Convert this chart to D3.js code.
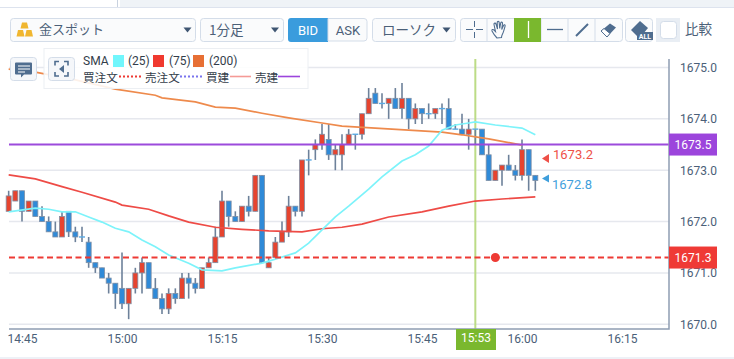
<!DOCTYPE html>
<html>
<head>
<meta charset="utf-8">
<script src="https://cdn.jsdelivr.net/npm/d3@7"></script>
<style>
body { margin: 0; background: #fff; }
text { font-family: Roboto, "Noto Sans CJK JP", sans-serif; }
.jp { font-family: "Noto Sans CJK JP", Roboto, sans-serif; }
</style>
</head>
<body>
<div id="chart"></div>
<script>
var startTime = "14:45";
var firstMinute = -2;

var opens = [1672.2,1672.4,1672.6,1672.2,1672.4,1672.1,1672.0,1671.8,1671.7,1672.2,1671.8,1671.7,1671.6,1671.2,1671.1,1670.9,1670.8,1670.7,1670.4,1670.7,1671.0,1671.2,1670.7,1670.5,1670.3,1670.6,1670.5,1670.9,1670.8,1670.7,1671.1,1671.2,1671.7,1672.4,1672.1,1672.0,1672.3,1672.2,1672.9,1671.1,1671.3,1671.6,1671.8,1672.3,1672.2,1673.2,1673.4,1673.5,1673.6,1673.3,1673.3,1673.5,1673.7,1673.7,1674.1,1674.5,1674.3,1674.3,1674.4,1674.2,1674.4,1674.0,1674.2,1674.1,1674.1,1674.2,1674.2,1673.8,1673.8,1673.7,1673.8,1673.8,1673.3,1672.8,1673.0,1673.1,1673.0,1672.9,1673.4,1672.9];
var highs = [1672.6,1672.6,1672.6,1672.4,1672.4,1672.3,1672.1,1672.0,1672.2,1672.2,1671.9,1671.9,1671.7,1671.2,1671.1,1671.0,1670.8,1671.4,1670.7,1671.1,1671.3,1671.2,1670.9,1670.6,1670.7,1670.7,1671.0,1671.0,1670.9,1671.1,1671.3,1671.9,1672.6,1672.4,1672.2,1672.3,1672.5,1672.9,1672.9,1671.3,1671.7,1672.0,1672.5,1672.3,1673.2,1673.4,1673.6,1673.9,1673.9,1673.5,1673.7,1673.8,1673.7,1674.1,1674.6,1674.6,1674.5,1674.4,1674.6,1674.7,1674.4,1674.3,1674.2,1674.3,1674.2,1674.3,1674.4,1673.9,1674.1,1674.0,1673.8,1673.8,1673.5,1673.0,1673.1,1673.3,1673.1,1673.6,1673.4,1672.9];
var lows = [1672.2,1672.4,1672.0,1672.2,1672.1,1672.0,1671.8,1671.7,1671.7,1671.7,1671.6,1671.6,1671.1,1671.0,1670.9,1670.6,1670.3,1670.3,1670.1,1670.6,1670.6,1670.7,1670.5,1670.2,1670.2,1670.4,1670.5,1670.5,1670.6,1670.7,1671.1,1671.2,1671.7,1671.9,1672.0,1672.0,1672.1,1672.2,1671.2,1671.1,1671.3,1671.6,1671.7,1672.1,1672.1,1672.9,1673.2,1673.4,1673.2,1673.0,1673.0,1673.5,1673.4,1673.6,1674.1,1674.3,1674.2,1674.0,1674.2,1674.0,1673.8,1673.9,1673.9,1674.0,1674.0,1673.9,1673.8,1673.8,1673.7,1673.4,1673.5,1673.3,1672.8,1672.8,1672.7,1673.0,1672.8,1672.8,1672.6,1672.6];
var closes = [1672.5,1672.6,1672.2,1672.4,1672.1,1672.0,1671.8,1671.7,1672.1,1671.8,1671.7,1671.7,1671.2,1671.1,1670.9,1670.8,1670.6,1670.4,1670.7,1671.0,1671.2,1670.7,1670.5,1670.3,1670.6,1670.5,1670.9,1670.8,1670.7,1671.1,1671.2,1671.7,1672.4,1672.1,1672.0,1672.3,1672.2,1672.9,1671.2,1671.2,1671.6,1671.8,1672.3,1672.2,1673.2,1673.2,1673.5,1673.7,1673.3,1673.4,1673.5,1673.7,1673.7,1674.1,1674.4,1674.3,1674.3,1674.4,1674.2,1674.4,1674.0,1674.2,1674.1,1674.1,1674.2,1674.2,1673.8,1673.8,1673.7,1673.8,1673.8,1673.3,1672.8,1673.0,1673.1,1673.0,1672.9,1673.4,1672.9,1672.8];

var sma25Minutes = [-2,2,4,6,8,10,12,14,16,18,20,22,25,27,30,32,36,38,41,43,45,47,49,52,54,57,59,61,63,65,67,68,71,75,77];
var sma25Values = [1672.19,1672.26,1672.24,1672.19,1672.19,1672.09,1671.99,1671.87,1671.80,1671.64,1671.51,1671.35,1671.19,1671.06,1671.04,1671.10,1671.19,1671.27,1671.39,1671.58,1671.84,1672.09,1672.30,1672.63,1672.87,1673.18,1673.30,1673.47,1673.78,1673.88,1673.92,1673.94,1673.88,1673.82,1673.69];
var sma75Minutes = [-2,2,6,9,14,15,19,22,25,29,33,37,42,45,48,51,55,60,64,68,72,77];
var sma75Values = [1672.91,1672.83,1672.68,1672.57,1672.38,1672.32,1672.24,1672.11,1671.99,1671.89,1671.85,1671.82,1671.80,1671.86,1671.89,1671.95,1672.09,1672.19,1672.30,1672.40,1672.44,1672.48];
var sma200Minutes = [-2,2,8,14,20,21,26,29,32,36,40,45,48,58,63,66,69,70,75];
var sma200Values = [1674.97,1674.91,1674.76,1674.58,1674.46,1674.41,1674.33,1674.23,1674.21,1674.11,1674.02,1673.92,1673.86,1673.78,1673.74,1673.69,1673.63,1673.61,1673.49];

var priceTicks = [1670,1671,1672,1673,1674,1675];
var timeTicks = [0,15,30,45,60,75,90];
var orderPrice = 1671.3;
var orderMinute = 71;
var positionPrice = 1673.5;
var cursorMinute = 68;
var cursorLabel = "15:53";
var askLabel = "1673.2";
var bidLabel = "1672.8";

var width = 734, height = 359;
var plot = {left: 9, right: 669, top: 59, bottom: 329};

var svg = d3.select("#chart").append("svg").attr("width", width).attr("height", height)
  .style("display", "block");

var base = d3.timeParse("%H:%M")(startTime);
var x = d3.scaleTime()
  .domain([base, d3.timeMinute.offset(base, 90)])
  .range([22, 622]);
var y = d3.scaleLinear()
  .domain([1670, 1675])
  .range([324.3, 67.5]);

function tx(m) { return x(new Date(base.getTime() + m * 60000)); }

var ink = "#4b6078";

// top strip and bottom rule
svg.append("rect").attr("x", 120).attr("y", 0).attr("width", 614).attr("height", 7).attr("fill", "#eff3f7");
svg.append("line").attr("x1", 0).attr("x2", 734).attr("y1", 7.5).attr("y2", 7.5).attr("stroke", "#dde3ee");
svg.append("line").attr("x1", 117.5).attr("x2", 117.5).attr("y1", 0).attr("y2", 7).attr("stroke", "#c9d2df");
svg.append("line").attr("x1", 0).attr("x2", 734).attr("y1", 358).attr("y2", 358).attr("stroke", "#dde3ee");

// grid
svg.append("g").selectAll("line").data(priceTicks).enter().append("line")
  .attr("x1", plot.left).attr("x2", plot.right)
  .attr("y1", function(d){return y(d);}).attr("y2", function(d){return y(d);})
  .attr("stroke", "#e6e8ee").attr("stroke-width", 1.5);

// cursor line
svg.append("line").attr("x1", tx(cursorMinute)).attr("x2", tx(cursorMinute))
  .attr("y1", plot.top).attr("y2", plot.bottom)
  .attr("stroke", "#bcdc86").attr("stroke-width", 2);

// candles
var candles = opens.map(function(d,i){
  return {m: firstMinute + i, o: d, h: highs[i], l: lows[i], c: closes[i]};
});
var candle = svg.append("g").selectAll("g").data(candles).enter().append("g");
candle.append("line")
  .attr("x1", function(d){return tx(d.m);}).attr("x2", function(d){return tx(d.m);})
  .attr("y1", function(d){return y(d.h);}).attr("y2", function(d){return y(d.l);})
  .attr("stroke", "#6d819a").attr("stroke-width", 1.6);
candle.filter(function(d){return d.o != d.c;}).append("rect")
  .attr("x", function(d){return tx(d.m) - 2.5;})
  .attr("width", 5)
  .attr("y", function(d){return y(Math.max(d.o, d.c));})
  .attr("height", function(d){return Math.abs(y(d.o) - y(d.c));})
  .attr("fill", function(d){return d.c > d.o ? "#e6442f" : "#2f8ad8";})
  .attr("stroke", "#7f8fa5").attr("stroke-width", 0.8);
candle.filter(function(d){return d.o == d.c;}).append("line")
  .attr("x1", function(d){return tx(d.m) - 3;}).attr("x2", function(d){return tx(d.m) + 3;})
  .attr("y1", function(d){return y(d.o);}).attr("y2", function(d){return y(d.o);})
  .attr("stroke", "#5aaae4").attr("stroke-width", 1.4);

// moving averages
var line = d3.line()
  .x(function(d){return tx(d[0]);})
  .y(function(d){return y(d[1]);});
function drawSma(minutes, values, color) {
  svg.append("path").attr("d", line(d3.zip(minutes, values)))
    .attr("fill", "none").attr("stroke", color).attr("stroke-width", 1.7);
}
drawSma(sma200Minutes, sma200Values, "#ee8a4c");
drawSma(sma75Minutes, sma75Values, "#ee4b46");
drawSma(sma25Minutes, sma25Values, "#7df3fa");

// order and position lines
svg.append("line").attr("x1", plot.left).attr("x2", plot.right)
  .attr("y1", y(orderPrice)).attr("y2", y(orderPrice))
  .attr("stroke", "#ee3a34").attr("stroke-width", 2).attr("stroke-dasharray", "6,3.5");
svg.append("circle").attr("cx", tx(orderMinute)).attr("cy", y(orderPrice)).attr("r", 4.5).attr("fill", "#ee3a34");
svg.append("line").attr("x1", plot.left).attr("x2", plot.right)
  .attr("y1", y(positionPrice)).attr("y2", y(positionPrice))
  .attr("stroke", "#9c4bdc").attr("stroke-width", 2);

// axis frame
svg.append("path").attr("d", "M" + plot.left + "," + plot.bottom + "H" + plot.right + "V" + plot.top)
  .attr("fill", "none").attr("stroke", "#8e9db2").attr("stroke-width", 1.5);

// axes
var yAxis = d3.axisRight(y).tickValues(priceTicks).tickSize(0).tickPadding(0)
  .tickFormat(d3.format(".1f"));
var yGroup = svg.append("g").attr("transform", "translate(680,0)").call(yAxis);
yGroup.select(".domain").remove();
yGroup.selectAll("text").attr("fill", ink).style("font-size", "12px").style("font-family", "Roboto");

var xAxis = d3.axisBottom(x)
  .tickValues(timeTicks.map(function(m){return d3.timeMinute.offset(base, m);}))
  .tickSize(0).tickPadding(0).tickFormat(d3.timeFormat("%H:%M"));
var xGroup = svg.append("g").attr("transform", "translate(0,334)").call(xAxis);
xGroup.select(".domain").remove();
xGroup.selectAll("text").attr("fill", ink).style("font-size", "12px").style("font-family", "Roboto");

// price boxes
function priceBox(price, color) {
  svg.append("rect").attr("x", 669).attr("y", y(price) - 11).attr("width", 48).attr("height", 22).attr("fill", color);
  svg.append("text").attr("x", 693).attr("y", y(price) + 4.5).attr("text-anchor", "middle")
    .attr("fill", "#fff").attr("font-size", 12).text(d3.format(".1f")(price));
}
priceBox(orderPrice, "#ef3a35");
priceBox(positionPrice, "#9c45dc");

svg.append("rect").attr("x", 456).attr("y", 329).attr("width", 40).attr("height", 21).attr("fill", "#7ab82e");
svg.append("text").attr("x", 476).attr("y", 342).attr("text-anchor", "middle").attr("fill", "#fff").attr("font-size", 12).text(cursorLabel);

// ask / bid markers
svg.append("path").attr("d", "M542,158.5L549,154V163Z").attr("fill", "#ee5048");
svg.append("text").attr("x", 553).attr("y", 158.5).attr("fill", "#ee5048").attr("font-size", 13).text(askLabel);
svg.append("path").attr("d", "M542,178.5L549,174.5V182.5Z").attr("fill", "#3f9fdc");
svg.append("text").attr("x", 552).attr("y", 189).attr("fill", "#3f9fdc").attr("font-size", 13).text(bidLabel);

// toolbar
function button(bx, by, w, h, fill) {
  return svg.append("rect").attr("x", bx + 0.5).attr("y", by + 0.5).attr("width", w).attr("height", h).attr("rx", 3)
    .attr("fill", fill || "#fafbfc").attr("stroke", "#d4dde9");
}
function caret(cx) {
  svg.append("path").attr("d", "M" + (cx - 4) + ",27.5H" + (cx + 4) + "L" + cx + ",32.5Z").attr("fill", "#3f5672");
}
function label(tx0, ty, s, size, color, anchor) {
  return svg.append("text").attr("class", "jp").attr("x", tx0).attr("y", ty).attr("font-size", size)
    .attr("fill", color || ink).attr("text-anchor", anchor || "start").text(s);
}

button(10, 18, 185, 23);
var gold = svg.append("g").attr("fill", "#f0b62f");
gold.append("path").attr("d", "M22,22.5h5l1.5,6h-8Z");
gold.append("path").attr("d", "M18,30h5l1.5,6.5h-8Z");
gold.append("path").attr("d", "M26.5,30h5l1.5,6.5h-8Z");
label(39, 34, "金スポット", 13, ink);
caret(187.5);

button(200, 18, 83, 23);
label(209, 35, "1分足", 13.5, ink);
caret(275);

svg.append("path").attr("d", "M291,18H328V42H291a3,3 0 0 1 -3,-3V21a3,3 0 0 1 3,-3Z").attr("fill", "#3a9cdd");
svg.append("text").attr("x", 308).attr("y", 35).attr("text-anchor", "middle").attr("fill", "#fff").attr("font-size", 13).text("BID");
svg.append("path").attr("d", "M328,18.5H364a3,3 0 0 1 3,3V38a3,3 0 0 1 -3,3H328Z").attr("fill", "#fafbfc").attr("stroke", "#d4dde9");
svg.append("text").attr("x", 348).attr("y", 35).attr("text-anchor", "middle").attr("fill", ink).attr("font-size", 13).text("ASK");

button(372, 18, 83, 23);
label(382, 34.5, "ローソク", 13.5, ink);
caret(446.5);

button(460, 18, 162, 23);
[487, 541, 568, 595].forEach(function(d){
  svg.append("line").attr("x1", d).attr("x2", d).attr("y1", 19).attr("y2", 41).attr("stroke", "#d4dde9");
});
svg.append("rect").attr("x", 514).attr("y", 18).attr("width", 27).attr("height", 24).attr("fill", "#7ab82e");
var icon = svg.append("g").attr("stroke", "#4f6d8f").attr("fill", "none").attr("stroke-width", 1);
icon.append("path").attr("d", "M466,29.5h7M476,29.5h7M474.5,21v6M474.5,32v6");
icon.append("path").attr("stroke-width", 1.1)
  .attr("d", "M497,38c-2,-2 -4,-5 -5,-7c-.5,-1.5 1,-2 2,-1l1.5,1.5l-1.5,-7c-.3,-1.5 1.5,-2 2,-.5l1.5,5l-.3,-6.5c0,-1.5 2,-1.5 2,0l.5,6l1,-5.5c.3,-1.5 2,-1 1.8,.5l-.8,6l1.8,-4c.6,-1.3 2,-.7 1.6,.6c-.8,3 -1.6,6 -2.6,8c-.5,1 -1,2 -1,3.5Z");
svg.append("line").attr("x1", 528.5).attr("x2", 528.5).attr("y1", 21).attr("y2", 38).attr("stroke", "#fff").attr("stroke-width", 1.3);
icon.append("line").attr("x1", 547).attr("x2", 563).attr("y1", 29.5).attr("y2", 29.5).attr("stroke-width", 1.3);
icon.append("line").attr("x1", 576).attr("x2", 588).attr("y1", 36).attr("y2", 24).attr("stroke-width", 2);
svg.append("path").attr("d", "M601,31L610,23.5L616,27.5L607,37Z").attr("fill", "#4f6d8f");
svg.append("path").attr("d", "M601,31L604,28.5L610,33.5L607,37Z").attr("fill", "#fff").attr("stroke", "#4f6d8f");

button(625, 18, 27, 23);
svg.append("path").attr("d", "M631,30L640,21L648,28L643,34L637,36Z").attr("fill", "#4f6d8f");
svg.append("rect").attr("x", 637).attr("y", 32).attr("width", 16).attr("height", 8).attr("fill", "#4f6d8f");
svg.append("text").attr("x", 645).attr("y", 39).attr("text-anchor", "middle").attr("fill", "#fff").attr("font-size", 7).attr("font-weight", "bold").text("ALL");

svg.append("rect").attr("x", 656).attr("y", 18).attr("width", 24).attr("height", 24).attr("fill", "#e9eef4");
svg.append("rect").attr("x", 660.5).attr("y", 21.5).attr("width", 16).attr("height", 17).attr("rx", 3).attr("fill", "#fff").attr("stroke", "#d4dde9");
label(685, 34, "比較", 13.5, ink);

// legend
svg.append("rect").attr("x", 44).attr("y", 48.5).attr("width", 264).attr("height", 40)
  .attr("fill", "#fff").attr("fill-opacity", 0.88).attr("stroke", "#eceff3");
button(10, 57, 26, 23, "#f5f7fa");
svg.append("path").attr("d", "M16,62.5h15a1,1 0 0 1 1,1v10a1,1 0 0 1 -1,1h-7l-3,3v-3h-5a1,1 0 0 1 -1,-1v-10a1,1 0 0 1 1,-1Z").attr("fill", "#4f6d8f");
svg.append("path").attr("d", "M18,66h12M18,69h12M18,72h7").attr("stroke", "#fff").attr("stroke-width", 1.2);
button(48, 57, 26, 23, "#f5f7fa");
svg.append("path").attr("d", "M55,65.5v-4h4M68,65.5v-4h-4M55,72v4h4M68,72v4h-4")
  .attr("fill", "none").attr("stroke", "#4f6d8f").attr("stroke-width", 1.6);
svg.append("path").attr("d", "M59,69L64,65V73Z").attr("fill", "#4f6d8f");

function legendText(lx, ly, s) {
  return svg.append("text").attr("x", lx).attr("y", ly).attr("font-size", 12).attr("fill", "#333d4a")
    .style("font-family", "Roboto").text(s);
}
legendText(83, 65, "SMA");
[[113, "#71f6fc", "(25)", 128], [153, "#f0392f", "(75)", 169], [193, "#e76f34", "(200)", 209]].forEach(function(d){
  svg.append("rect").attr("x", d[0]).attr("y", 55).attr("width", 11).attr("height", 12).attr("fill", d[1]);
  legendText(d[3], 65, d[2]);
});
[[83, "買注文"], [145, "売注文"], [206, "買建"], [255, "売建"]].forEach(function(d){
  label(d[0], 81.5, d[1], 11.6, "#333d4a");
});
svg.append("line").attr("x1", 119).attr("x2", 142).attr("y1", 76.5).attr("y2", 76.5)
  .attr("stroke", "#ee3a34").attr("stroke-width", 2).attr("stroke-dasharray", "2,2");
svg.append("line").attr("x1", 180).attr("x2", 203).attr("y1", 76.5).attr("y2", 76.5)
  .attr("stroke", "#7a74ee").attr("stroke-width", 2).attr("stroke-dasharray", "2,2");
svg.append("line").attr("x1", 230).attr("x2", 251).attr("y1", 76.5).attr("y2", 76.5)
  .attr("stroke", "#f59a96").attr("stroke-width", 1.6);
svg.append("line").attr("x1", 278).attr("x2", 300).attr("y1", 76.5).attr("y2", 76.5)
  .attr("stroke", "#9c45dc").attr("stroke-width", 1.6);
</script>
</body>
</html>
